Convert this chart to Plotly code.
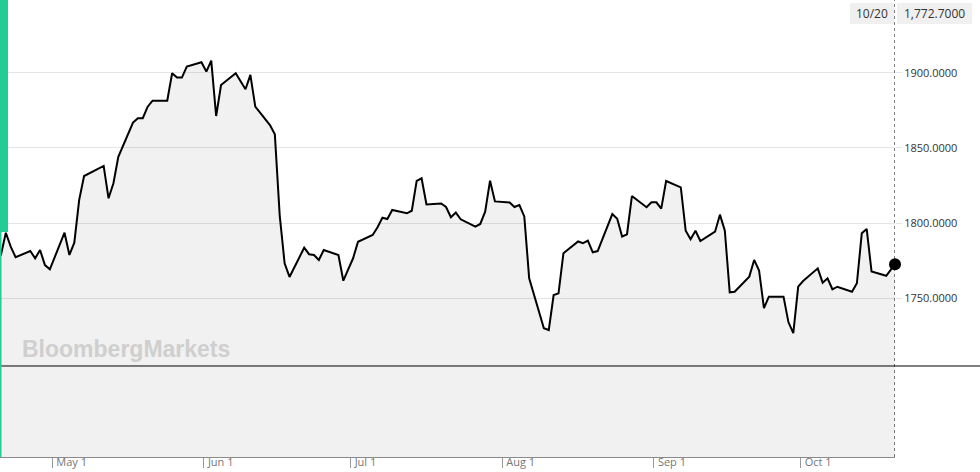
import plotly.graph_objects as go

# daily closes
dates = [
    "2020-04-20", "2020-04-21", "2020-04-22", "2020-04-23", "2020-04-24",
    "2020-04-27", "2020-04-28", "2020-04-29", "2020-04-30", "2020-05-01",
    "2020-05-04", "2020-05-05", "2020-05-06", "2020-05-07", "2020-05-08",
    "2020-05-11", "2020-05-12", "2020-05-13", "2020-05-14", "2020-05-15",
    "2020-05-18", "2020-05-19", "2020-05-20", "2020-05-21", "2020-05-22",
    "2020-05-25", "2020-05-26", "2020-05-27", "2020-05-28", "2020-05-29",
    "2020-06-01", "2020-06-02", "2020-06-03", "2020-06-04", "2020-06-05",
    "2020-06-08", "2020-06-09", "2020-06-10", "2020-06-11", "2020-06-12",
    "2020-06-15", "2020-06-16", "2020-06-17", "2020-06-18", "2020-06-19",
    "2020-06-22", "2020-06-23", "2020-06-24", "2020-06-25", "2020-06-26",
    "2020-06-29", "2020-06-30", "2020-07-01", "2020-07-02", "2020-07-03",
    "2020-07-06", "2020-07-07", "2020-07-08", "2020-07-09", "2020-07-10",
    "2020-07-13", "2020-07-14", "2020-07-15", "2020-07-16", "2020-07-17",
    "2020-07-20", "2020-07-21", "2020-07-22", "2020-07-23", "2020-07-24",
    "2020-07-27", "2020-07-28", "2020-07-29", "2020-07-30", "2020-07-31",
    "2020-08-03", "2020-08-04", "2020-08-05", "2020-08-06", "2020-08-07",
    "2020-08-10", "2020-08-11", "2020-08-12", "2020-08-13", "2020-08-14",
    "2020-08-17", "2020-08-18", "2020-08-19", "2020-08-20", "2020-08-21",
    "2020-08-24", "2020-08-25", "2020-08-26", "2020-08-27", "2020-08-28",
    "2020-08-31", "2020-09-01", "2020-09-02", "2020-09-03", "2020-09-04",
    "2020-09-07", "2020-09-08", "2020-09-09", "2020-09-10", "2020-09-11",
    "2020-09-14", "2020-09-15", "2020-09-16", "2020-09-17", "2020-09-18",
    "2020-09-21", "2020-09-22", "2020-09-23", "2020-09-24", "2020-09-25",
    "2020-09-28", "2020-09-29", "2020-09-30", "2020-10-01", "2020-10-02",
    "2020-10-05", "2020-10-06", "2020-10-07", "2020-10-08", "2020-10-09",
    "2020-10-12", "2020-10-13", "2020-10-14", "2020-10-15", "2020-10-16",
    "2020-10-19", "2020-10-20 19:00",
]
closes = [
    1776.0, 1778.8, 1793.6, 1784.3, 1777.3,
    1781.4, 1776.6, 1782.1, 1772.1, 1769.3,
    1793.6, 1778.8, 1787.0, 1815.4, 1831.3,
    1836.3, 1838.0, 1816.5, 1826.5, 1844.1,
    1866.8, 1869.7, 1869.7, 1877.4, 1881.4,
    1881.4, 1899.6, 1896.7, 1896.7, 1904.0,
    1906.9, 1900.7, 1908.0, 1871.2, 1891.8,
    1899.6, 1894.0, 1889.0, 1898.5, 1877.4,
    1865.2, 1859.0, 1805.0, 1773.3, 1764.2,
    1783.6, 1779.3, 1778.8, 1775.5, 1782.1,
    1778.8, 1761.7, 1769.3, 1776.6, 1787.6,
    1792.1, 1797.2, 1803.6, 1802.7, 1808.7,
    1806.5, 1808.2, 1828.0, 1829.8, 1812.4,
    1813.0, 1810.7, 1803.9, 1807.0, 1802.5,
    1797.6, 1799.4, 1807.6, 1828.2, 1814.4,
    1813.7, 1810.7, 1812.0, 1804.4, 1763.3,
    1730.1, 1728.9, 1752.2, 1753.3, 1779.9,
    1787.8, 1786.6, 1788.3, 1780.6, 1781.4,
    1806.0, 1802.9, 1791.0, 1792.6, 1818.0,
    1810.5, 1813.8, 1813.8, 1809.6, 1828.0,
    1823.7, 1794.9, 1789.3, 1794.9, 1788.1,
    1794.3, 1805.6, 1794.9, 1754.0, 1754.4,
    1764.4, 1775.5, 1768.5, 1743.4, 1751.1,
    1751.1, 1734.2, 1726.9, 1757.7, 1761.5,
    1769.9, 1760.4, 1763.3, 1756.0, 1757.7,
    1754.4, 1760.0, 1793.2, 1796.1, 1767.8,
    1765.0, 1772.7,
]

tick_dates = ["2020-05-01 12:00", "2020-06-01 12:00", "2020-07-01 12:00",
              "2020-08-01 12:00", "2020-09-01 12:00", "2020-10-01 12:00"]
tick_labels = ["May 1", "Jun 1", "Jul 1", "Aug 1", "Sep 1", "Oct 1"]
price_ticks = [1750, 1800, 1850, 1900]
baseline_value = 1705
last_date_label = "10/20"
last_value_label = "1,772.7000"

W, H = 980, 472
PLOT_W, PLOT_H = 895, 457
FONT = "Open Sans"


def px_x(p):
    return p / PLOT_W


def px_y(p):
    return (PLOT_H - p) / PLOT_H


price_line = go.Scatter(
    x=dates, y=closes, mode="lines",
    line=dict(color="black", width=2),
    fill="tozeroy", fillcolor="rgba(0,0,0,0.055)",
    hoverinfo="skip", showlegend=False,
)
last_point = go.Scatter(
    x=[dates[-1]], y=[closes[-1]], mode="markers",
    marker=dict(color="black", size=12), cliponaxis=False,
    hoverinfo="skip", showlegend=False,
)

fig = go.Figure(data=[price_line, last_point])

shapes = [
    # baseline across the whole width
    dict(type="line", xref="paper", yref="y", x0=0, x1=W / PLOT_W,
         y0=baseline_value, y1=baseline_value, line=dict(color="black", width=1)),
    # dotted cursor at last date
    dict(type="line", xref="x", yref="paper", x0=dates[-1], x1=dates[-1],
         y0=0, y1=1, line=dict(color="black", width=1, dash="dot")),
    # green strip on the left
    dict(type="rect", xref="paper", yref="paper", x0=0, x1=px_x(8),
         y0=px_y(232), y1=1, fillcolor="#22cc94", line=dict(width=0)),
    dict(type="rect", xref="paper", yref="paper", x0=0, x1=px_x(1.5),
         y0=0, y1=px_y(232), fillcolor="#22cc94", line=dict(width=0)),
    # label boxes
    dict(type="rect", xref="paper", yref="paper", x0=px_x(850), x1=px_x(894),
         y0=px_y(24), y1=px_y(3), fillcolor="#f0f0f0", line=dict(width=0)),
    dict(type="rect", xref="paper", yref="paper", x0=px_x(897), x1=px_x(972),
         y0=px_y(24), y1=px_y(3), fillcolor="#f0f0f0", line=dict(width=0)),
]

annotations = [
    dict(text=last_date_label, xref="paper", yref="paper", x=px_x(872), y=px_y(13.5),
         xanchor="center", yanchor="middle", showarrow=False,
         font=dict(family=FONT, size=12, color="#333")),
    dict(text=last_value_label, xref="paper", yref="paper", x=px_x(934.5), y=px_y(13.5),
         xanchor="center", yanchor="middle", showarrow=False,
         font=dict(family=FONT, size=12, color="#333")),
    dict(text="BloombergMarkets", xref="paper", yref="paper", x=px_x(20), y=px_y(349),
         xanchor="left", yanchor="middle", showarrow=False,
         font=dict(family="Liberation Sans", size=23, color="#cfcfcf", weight=700)),
]

fig.update_layout(
    width=W, height=H,
    margin=dict(l=0, r=W - PLOT_W, t=0, b=H - PLOT_H),
    plot_bgcolor="white", paper_bgcolor="white",
    shapes=shapes, annotations=annotations,
    showlegend=False,
)
fig.update_xaxes(
    type="date", range=["2020-04-20 19:25", "2020-10-20 19:00"],
    tickvals=tick_dates, ticktext=tick_labels,
    showgrid=False, zeroline=False,
    showline=True, linecolor="#8a8a8a", linewidth=1,
    ticks="outside", ticklen=10, tickcolor="#999", tickwidth=1,
    ticklabelposition="outside right", ticklabelstandoff=-5, ticklabelshift=3,
    tickfont=dict(family=FONT, size=11, color="#777"),
)
fig.update_yaxes(
    side="right", range=[1644.5, 1948.3],
    tickvals=price_ticks, tickformat=".4f",
    showgrid=True, gridcolor="#e4e4e4", gridwidth=1, zeroline=False,
    ticks="outside", ticklen=6, tickcolor="#e4e4e4",
    tickfont=dict(family=FONT, size=11, color="#333"),
)

# page body has a default 8px margin; drop it so the chart sits at the corner
fig.write_html("out.html", config={"displayModeBar": False},
               post_script="document.body.style.margin='0';")
